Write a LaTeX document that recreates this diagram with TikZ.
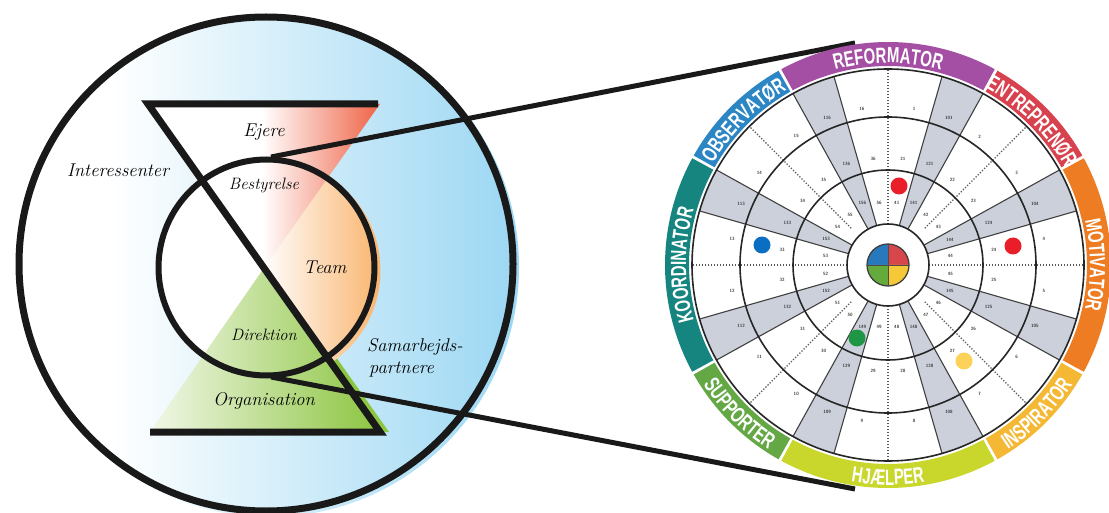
\documentclass[tikz,border=0pt]{standalone}
\usepackage{fontspec}
\newfontfamily\ringfont[FakeStretch=0.68]{Liberation Sans}
\newcommand\ringtxt{\ringfont\bfseries\fontsize{22}{22}\selectfont}
\usetikzlibrary{calc,decorations.text}
\definecolor{skyB}{RGB}{155,215,243}
\definecolor{redB}{RGB}{238,96,66}
\definecolor{orgB}{RGB}{249,178,105}
\definecolor{grnA}{RGB}{242,247,232}
\definecolor{grnB}{RGB}{140,197,64}
\definecolor{cRef}{RGB}{164,79,163}
\definecolor{cEnt}{RGB}{216,66,78}
\definecolor{cMot}{RGB}{237,124,34}
\definecolor{cIns}{RGB}{245,184,52}
\definecolor{cHja}{RGB}{201,214,44}
\definecolor{cSup}{RGB}{99,168,69}
\definecolor{cKoo}{RGB}{22,133,127}
\definecolor{cObs}{RGB}{44,134,196}
\definecolor{bandc}{RGB}{203,208,218}
\definecolor{numc}{RGB}{60,60,60}
\definecolor{dRed}{RGB}{234,30,40}
\definecolor{dBlue}{RGB}{10,110,195}
\definecolor{dGreen}{RGB}{30,150,70}
\definecolor{dYel}{RGB}{253,210,90}
\definecolor{qBlue}{RGB}{40,120,190}
\definecolor{qRed}{RGB}{214,70,75}
\definecolor{qGreen}{RGB}{100,170,60}
\definecolor{qYel}{RGB}{245,200,55}
\begin{document}
\begin{tikzpicture}[x=1pt,y=1pt,
  lbl/.style={font=\fontsize{18.5}{20}\selectfont\itshape, inner sep=0pt, anchor=base},
  lbls/.style={font=\fontsize{16.5}{18}\selectfont\itshape, inner sep=0pt, anchor=base},
  num/.style={font=\fontsize{4.6}{5}\selectfont\sffamily\bfseries, text=numc, inner sep=0pt},
  wline/.style={line width=1.6pt, draw=black!85},
  bedge/.style={line width=1.1pt, draw=black!75},
  dotline/.style={line width=1.3pt, draw=black!65, dash pattern=on 1.3pt off 1.7pt},
  conn/.style={line width=5pt, draw=black!90},
  heavy/.style={line width=7pt, draw=black!90, line join=miter},
  dot/.style={circle, minimum size=17pt, inner sep=0pt}
]
\useasboundingbox (0,0) rectangle (1109,-513);
% ---------------- left diagram ----------------
\coordinate (C) at (266,-264);
\coordinate (I) at (266.5,-267.5);
\begin{scope}
  \clip (269,-267) circle[radius=250pt];
  \shade[left color=white, right color=skyB] (110,-10) rectangle (520,-520);
\end{scope}
\draw[line width=7pt, black!90] (C) circle[radius=247pt];
\fill[white] (I) circle[radius=108pt];
% green shadow
\fill[grnB] (273,-268) -- (159,-432) -- (389,-432) -- cycle;
% orange team area
\begin{scope}
  \clip (264,-268) -- (420,-44) -- (560,-44) -- (560,-500) -- (428,-500) -- cycle;
  \clip (269.5,-270.5) circle[radius=111pt];
  \shade[left color=white, right color=orgB] (262,-150) rectangle (384,-390);
\end{scope}
% triangles
\begin{scope}
  \clip (148,-104) -- (380,-104) -- (264,-268) -- cycle;
  \fill[white] (140,-100) rectangle (262,-270);
  \shade[left color=white, right color=redB] (262,-100) rectangle (382,-270);
\end{scope}
\shade[left color=grnA, right color=grnB] (264,-268) -- (150,-432) -- (380,-432) -- cycle;
\draw[line width=6pt, black!90] (I) circle[radius=108pt];
\draw[heavy] (378,-104) -- (148,-104) -- (380,-432) -- (150,-432);
% labels
\node[lbl] (ejere) at (264,-136.7) {Ejere};
\node[lbl] (inter) at (118,-176.7) {Interessenter};
\node[lbls] (best) at (264,-190) {Bestyrelse};
\node[lbl] (team) at (325,-273) {Team};
\node[lbls] (dir) at (264,-340) {Direktion};
\node[lbl] (org) at (264,-405) {Organisation};
\node[lbl, anchor=base west] (samar1) at (367,-351.7) {Samarbejds-};
\node[lbl, anchor=base west] (samar2) at (369,-373.3) {partnere};
% connectors
\coordinate (itop) at (271,-157);
\coordinate (ibot) at (271,-377);
\coordinate (wtop) at (855,-43);
\coordinate (wbot) at (855,-489);
\draw[conn] (itop) -- (wtop);
\draw[conn] (ibot) -- (wbot);
% ---------------- wheel ----------------
\coordinate (W) at (888,-265);
\foreach \a/\b/\col in {119/61/cRef,61/29/cEnt,29/-29/cMot,-29/-61/cIns,-61/-119/cHja,-119/-151/cSup,-151/-209/cKoo,-209/-241/cObs} {
  \fill[\col] ($(W)+(\a-0.4:223pt)$) arc[start angle=\a-0.4, end angle=\b+0.4, radius=223pt]
     -- ($(W)+(\b+0.4:199pt)$) arc[start angle=\b+0.4, end angle=\a-0.4, radius=199pt] -- cycle;
}
\foreach \k in {0,...,7} {
  \pgfmathsetmacro\cc{22.5+45*\k}
  \fill[bandc] ($(W)+(\cc-6.5:41pt)$) -- ($(W)+(\cc-6.5:196pt)$) arc[start angle=\cc-6.5, end angle=\cc+6.5, radius=196pt] -- ($(W)+(\cc+6.5:41pt)$) -- cycle;
  \draw[bedge] ($(W)+(\cc-6.5:41pt)$) -- ($(W)+(\cc-6.5:196pt)$);
  \draw[bedge] ($(W)+(\cc+6.5:41pt)$) -- ($(W)+(\cc+6.5:196pt)$);
}
\foreach \k in {0,2,4,6} \draw[dotline] ($(W)+(45*\k:44pt)$) -- ($(W)+(45*\k:196pt)$);
\foreach \k in {1,3,5,7} \draw[dotline] ($(W)+(45*\k:52pt)$) -- ($(W)+(45*\k:196pt)$);
\draw[wline] (W) circle[radius=196pt];
\draw[wline] (W) circle[radius=148pt];
\draw[wline] (W) circle[radius=95pt];
\draw[wline, fill=white] (W) circle[radius=41pt];
% colour disc
\fill[qRed] (W) -- ++(0:21pt) arc[start angle=0, end angle=90, radius=21pt] -- cycle;
\fill[qBlue] (W) -- ++(90:21pt) arc[start angle=90, end angle=180, radius=21pt] -- cycle;
\fill[qGreen] (W) -- ++(180:21pt) arc[start angle=180, end angle=270, radius=21pt] -- cycle;
\fill[qYel] (W) -- ++(270:21pt) arc[start angle=270, end angle=360, radius=21pt] -- cycle;
\draw[line width=0.6pt, black!70] ($(W)+(-21,0)$) -- ($(W)+(21,0)$);
\draw[line width=0.6pt, black!70] ($(W)+(0,-21)$) -- ($(W)+(0,21)$);
\draw[line width=1.3pt, black!75] (W) circle[radius=21pt];
% numbers
\foreach \n in {1,...,16} {
  \pgfmathsetmacro\sg{1-2*mod(\n,2)}
  \pgfmathsetmacro\ango{90-45*floor(\n/2)+9.5*\sg}
  \pgfmathsetmacro\angm{90-45*floor(\n/2)+8*\sg}
  \pgfmathtruncatemacro\m{\n+20}
  \pgfmathtruncatemacro\q{\n+40}
  \node[num] (no\n) at ($(W)+(\ango:158pt)$) {\n};
  \node[num] (nm\n) at ($(W)+(\angm:107pt)$) {\m};
  \node[num] (ni\n) at ($(W)+(\angm:63pt)$) {\q};
}
\foreach \ang/\v in {67.5/101,22.5/104,-22.5/105,-67.5/108,-112.5/109,-157.5/112,157.5/113,112.5/116} {
  \pgfmathtruncatemacro\vm{\v+20}
  \pgfmathtruncatemacro\vi{\v+40}
  \node[num] (bo\v) at ($(W)+(\ang:159pt)$) {\v};
  \node[num] (bm\v) at ($(W)+(\ang:109pt)$) {\vm};
  \node[num] (bi\v) at ($(W)+(\ang:67pt)$) {\vi};
}
% dots
\node[dot, fill=dRed] (d1) at (899,-186) {};
\node[dot, fill=dBlue] (d2) at (762,-245) {};
\node[dot, fill=dRed] (d3) at (1013,-246) {};
\node[dot, fill=dGreen] (d4) at (857,-338) {};
\node[dot, fill=dYel] (d5) at (964,-361) {};
% ring labels
\path[decorate, decoration={text along path, text={|\ringtxt|REFORMATOR}, text align=center, text color=white}]
  ($(W)+(130:202pt)$) arc[start angle=130, end angle=50, radius=202pt];
\path[decorate, decoration={text along path, text={|\ringtxt|ENTREPRENØR}, text align=center, text color=white}]
  ($(W)+(85:202pt)$) arc[start angle=85, end angle=5, radius=202pt];
\path[decorate, decoration={text along path, text={|\ringtxt|MOTIVATOR}, text align=center, text color=white}]
  ($(W)+(40:202pt)$) arc[start angle=40, end angle=-40, radius=202pt];
\path[decorate, decoration={text along path, text={|\ringtxt|KOORDINATOR}, text align=center, text color=white}]
  ($(W)+(220:202pt)$) arc[start angle=220, end angle=140, radius=202pt];
\path[decorate, decoration={text along path, text={|\ringtxt|OBSERVATØR}, text align=center, text color=white}]
  ($(W)+(175:202pt)$) arc[start angle=175, end angle=95, radius=202pt];
\path[decorate, decoration={text along path, text={|\ringtxt|INSPIRATOR}, text align=center, text color=white}]
  ($(W)+(-85:220pt)$) arc[start angle=-85, end angle=-5, radius=220pt];
\path[decorate, decoration={text along path, text={|\ringtxt|HJÆLPER}, text align=center, text color=white}]
  ($(W)+(-130:220pt)$) arc[start angle=-130, end angle=-50, radius=220pt];
\path[decorate, decoration={text along path, text={|\ringtxt|SUPPORTER}, text align=center, text color=white}]
  ($(W)+(-175:220pt)$) arc[start angle=-175, end angle=-95, radius=220pt];
\end{tikzpicture}
\end{document}
